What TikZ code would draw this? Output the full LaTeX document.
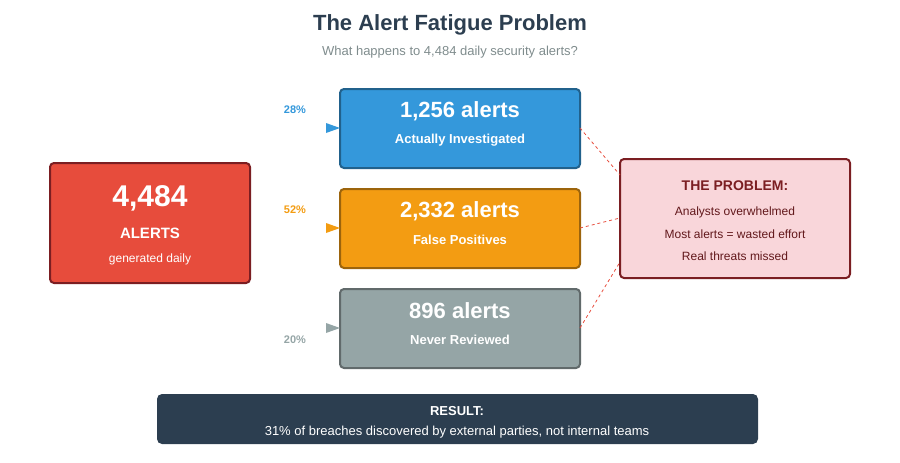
\documentclass[tikz,border=0pt]{standalone}
\usepackage{fontspec}
\setmainfont{Liberation Sans}
\usetikzlibrary{arrows.meta}
\definecolor{cred}{HTML}{E74C3C}\definecolor{dred}{HTML}{7B1E22}
\definecolor{cblue}{HTML}{3498DB}\definecolor{dblue}{HTML}{21618C}
\definecolor{corg}{HTML}{F39C12}\definecolor{dorg}{HTML}{9C640C}
\definecolor{cgray}{HTML}{95A5A6}\definecolor{dgray}{HTML}{616A6B}
\definecolor{cpink}{HTML}{F9D6DA}\definecolor{navy}{HTML}{2C3E50}
\definecolor{sub}{HTML}{7F8C8D}
\tikzset{box/.style={rounded corners=4pt,line width=2pt},
 txt/.style={text=white,font=\bfseries,anchor=center},
 tip/.style={-{Triangle[length=8pt,width=10pt]},line width=0.01pt}}
\begin{document}
\begin{tikzpicture}[x=1pt,y=-1pt]
\useasboundingbox (0,0) rectangle (900,463);
\node[text=navy,font=\fontsize{22}{26}\selectfont\bfseries] (title) at (450,25) {The Alert Fatigue Problem};
\node[text=sub,font=\fontsize{13}{16}\selectfont] (subt) at (450,52) {What happens to 4,484 daily security alerts?};
% red
\draw[box,fill=cred,draw=dred] (50,163) rectangle (250,283);
\node[txt,font=\fontsize{30}{34}\selectfont\bfseries] (n1) at (150,198) {4,484};
\node[txt,font=\fontsize{15}{18}\selectfont\bfseries] (n2) at (150,233) {ALERTS};
\node[text=white,font=\fontsize{12}{14}\selectfont] (n3) at (150,259) {generated daily};
% blue
\draw[box,fill=cblue,draw=dblue] (340,89) rectangle (580,168);
\node[txt,font=\fontsize{22}{26}\selectfont\bfseries] (b1) at (460,111) {1,256 alerts};
\node[txt,font=\fontsize{13}{16}\selectfont\bfseries] (b2) at (460,140) {Actually Investigated};
% orange
\draw[box,fill=corg,draw=dorg] (340,189) rectangle (580,268);
\node[txt,font=\fontsize{22}{26}\selectfont\bfseries] (o1) at (460,211) {2,332 alerts};
\node[txt,font=\fontsize{13}{16}\selectfont\bfseries] (o2) at (460,240) {False Positives};
% gray
\draw[box,fill=cgray,draw=dgray] (340,289) rectangle (580,368);
\node[txt,font=\fontsize{22}{26}\selectfont\bfseries] (g1) at (460,311) {896 alerts};
\node[txt,font=\fontsize{13}{16}\selectfont\bfseries] (g2) at (460,340) {Never Reviewed};
% problem
\draw[box,fill=cpink,draw=dred] (620,159) rectangle (850,278);
\node[text=dred,font=\fontsize{14}{17}\selectfont\bfseries] (p0) at (735,186) {THE PROBLEM:};
\node[text=dred!80!black,font=\fontsize{12}{14}\selectfont] (p1) at (735,212) {Analysts overwhelmed};
\node[text=dred!80!black,font=\fontsize{12}{14}\selectfont] (p2) at (735,234) {Most alerts = wasted effort};
\node[text=dred!80!black,font=\fontsize{12}{14}\selectfont] (p3) at (735,256) {Real threats missed};
% dashed
\coordinate (bo) at (580,128);\coordinate (oo) at (580,228);\coordinate (go) at (580,328);
\coordinate (pa) at (620,175);\coordinate (pb) at (620,218);\coordinate (pc) at (620,262);
\draw[cred,dashed,line width=0.8pt] (bo)--(pa) (oo)--(pb) (go)--(pc);
% percentages
\node[text=cblue,font=\fontsize{11}{13}\selectfont\bfseries] (c1) at (295,110) {28\%};
\node[text=corg,font=\fontsize{11}{13}\selectfont\bfseries] (c2) at (295,210) {52\%};
\node[text=cgray,font=\fontsize{11}{13}\selectfont\bfseries] (c3) at (295,340) {20\%};
\coordinate (t1a) at (328,128);\coordinate (t1b) at (340,128);
\coordinate (t2a) at (328,228);\coordinate (t2b) at (340,228);
\coordinate (t3a) at (328,328);\coordinate (t3b) at (340,328);
\fill[cblue] (326,123)--(340,128)--(326,133)--cycle;
\fill[corg] (326,223)--(340,228)--(326,233)--cycle;
\fill[cgray] (326,323)--(340,328)--(326,333)--cycle;
% result
\fill[navy,rounded corners=5pt] (157,394) rectangle (758,444);
\node[text=white,font=\fontsize{13}{16}\selectfont\bfseries] (r1) at (457,411) {RESULT:};
\node[text=white,font=\fontsize{13}{16}\selectfont] (r2) at (457,432) {31\% of breaches discovered by external parties, not internal teams};
\end{tikzpicture}
\end{document}
